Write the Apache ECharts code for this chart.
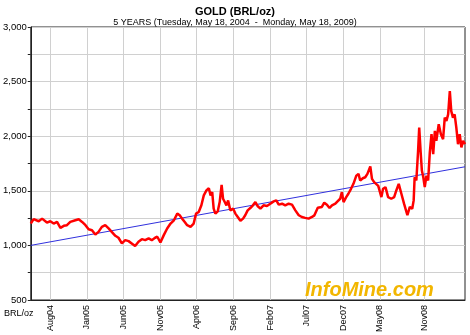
<!DOCTYPE html>
<html><head><meta charset="utf-8">
<script src="https://cdn.jsdelivr.net/npm/echarts@6/dist/echarts.min.js"></script>
<style>html,body{margin:0;padding:0;background:#fff}#c{width:470px;height:335px}</style>
</head><body><div id="c"></div>
<script>
const goldDates = [
'2004-05-13','2004-05-25','2004-06-15','2004-06-29','2004-07-19','2004-08-02','2004-08-16','2004-08-30',
'2004-09-13','2004-09-27','2004-10-10','2004-10-24','2004-11-14','2004-11-28','2004-12-12','2004-12-26',
'2005-01-08','2005-01-22','2005-02-05','2005-02-18','2005-03-04','2005-03-18','2005-04-01','2005-04-14',
'2005-04-29','2005-05-12','2005-05-26','2005-06-09','2005-06-23','2005-07-06','2005-07-20','2005-08-03',
'2005-08-17','2005-08-31','2005-09-14','2005-09-27','2005-10-11','2005-10-20','2005-11-02','2005-11-16',
'2005-11-30','2005-12-14','2005-12-28',
'2006-01-11','2006-01-21','2006-01-31','2006-02-11','2006-02-21','2006-03-07','2006-03-20','2006-03-30',
'2006-04-10','2006-04-21','2006-05-01','2006-05-12','2006-05-22','2006-05-29','2006-06-05','2006-06-11',
'2006-06-18','2006-06-28','2006-07-06','2006-07-14','2006-07-20','2006-07-27','2006-08-03','2006-08-10',
'2006-08-19','2006-08-31','2006-09-09','2006-09-19','2006-09-30','2006-10-11','2006-10-20','2006-10-30',
'2006-11-10','2006-11-21','2006-12-01','2006-12-10','2006-12-22',
'2007-01-04','2007-01-18','2007-02-01','2007-02-15','2007-02-26','2007-03-08','2007-03-22','2007-04-04',
'2007-04-18','2007-05-02','2007-05-16','2007-05-30','2007-06-12','2007-06-26','2007-07-10','2007-07-24',
'2007-08-03','2007-08-17','2007-08-25','2007-09-03','2007-09-13','2007-09-24','2007-10-05','2007-10-15',
'2007-10-29','2007-11-07','2007-11-18','2007-11-25','2007-12-02','2007-12-13','2007-12-22',
'2008-01-02','2008-01-12','2008-01-24','2008-02-02','2008-02-09','2008-02-20','2008-03-01','2008-03-10',
'2008-03-22','2008-03-29','2008-04-07','2008-04-15','2008-04-24','2008-05-07','2008-05-14','2008-05-24',
'2008-06-04','2008-06-17','2008-06-29','2008-07-08','2008-07-18','2008-07-29','2008-08-09','2008-08-19',
'2008-08-23','2008-09-02','2008-09-12','2008-09-18','2008-09-22','2008-09-29','2008-10-06','2008-10-11',
'2008-10-17','2008-10-22','2008-10-28','2008-11-03','2008-11-10','2008-11-17','2008-11-24','2008-12-01',
'2008-12-08','2008-12-15','2008-12-21','2008-12-31',
'2009-01-09','2009-01-18','2009-01-25','2009-02-01','2009-02-08','2009-02-15','2009-02-21','2009-02-28',
'2009-03-07','2009-03-14','2009-03-21','2009-03-28','2009-04-04','2009-04-11','2009-04-19'
];
const goldValues = [
1200,1240,1221,1245,1209,1221,1200,1215,
1161,1179,1185,1215,1230,1239,1215,1185,
1148,1139,1100,1124,1170,1185,1155,1124,
1088,1070,1018,1048,1039,1018,995,1033,
1057,1048,1064,1048,1070,1079,1027,1094,
1155,1200,1230,
1291,1276,1245,1215,1185,1170,1200,1291,
1306,1367,1458,1503,1524,1458,1488,1336,
1291,1312,1397,1554,1427,1397,1367,1412,
1321,1336,1291,1260,1225,1245,1276,1321,
1342,1367,1397,1361,1336,
1367,1361,1382,1403,1412,1373,1382,1367,
1382,1373,1321,1276,1260,1252,1245,1260,
1275,1345,1336,1352,1391,1373,1342,1367,
1382,1403,1427,1488,1397,1442,1473,
1518,1564,1639,1655,1594,1615,1624,1655,
1724,1609,1579,1594,1545,1442,1518,1533,
1442,1427,1442,1503,1564,1473,1382,1306,
1276,1352,1336,1412,1624,1594,1852,2079,
1852,1685,1624,1533,1639,1594,1852,2018,
1836,2048,1958,2109,
2018,1973,2170,2140,2200,2412,2230,2170,
2200,2079,1927,2018,1897,1958,1927
];
const trendDates = ['2004-05-13','2009-04-19'];
const trendValues = [1000,1720];
const tickDates = ['2004-08-01','2005-01-01','2005-06-01','2005-11-01','2006-04-01','2006-09-01',
  '2007-02-01','2007-07-01','2007-12-01','2008-05-01','2008-11-01'];
const tickLabels = ['Aug04','Jan05','Jun05','Nov05','Apr06','Sep06','Feb07','Jul07','Dec07','May08','Nov08'];
const axisStart = '2004-05-13', axisEnd = '2009-04-19';

function ts(s){const p=s.split('-').map(Number);return Date.UTC(p[0],p[1]-1,p[2]);}
const tickTs = tickDates.map(ts);
const chart = echarts.init(document.getElementById('c'));
const FONT = '"Liberation Sans", Arial, sans-serif';
chart.setOption({
  animation:false,
  backgroundColor:'#fff',
  title:[
    {text:'GOLD (BRL/oz)', left:'center', top:1, textStyle:{fontFamily:FONT,fontSize:11,fontWeight:'bold',color:'#000'}},
    {text:'5 YEARS (Tuesday, May 18, 2004  -  Monday, May 18, 2009)', left:'center', top:13, textStyle:{fontFamily:FONT,fontSize:9,fontWeight:'normal',color:'#000'}}
  ],
  grid:{left:30,right:5,top:27,bottom:33,show:true,borderColor:'#222',borderWidth:1,backgroundColor:'transparent'},
  xAxis:{
    type:'value', min:ts(axisStart), max:ts(axisEnd),
    axisLine:{show:true,lineStyle:{color:'#222'}},
    axisTick:{show:false,customValues:tickTs},
    axisLabel:{customValues:tickTs,rotate:90,fontFamily:FONT,fontSize:9,color:'#000',margin:5,
      formatter:function(v){const i=tickTs.indexOf(v);return i>=0?tickLabels[i]:'';}},
    splitLine:{show:false}
  },
  yAxis:{
    type:'value', min:500, max:3000, interval:250,
    axisLine:{show:true,lineStyle:{color:'#222'}},
    axisTick:{show:true,length:3,lineStyle:{color:'#222'}},
    axisLabel:{fontFamily:FONT,fontSize:9.5,color:'#000',margin:4,
      formatter:function(v){return v%500===0?v.toLocaleString('en-US'):'';}},
    splitLine:{show:true,lineStyle:{color:'#d0d0d0',width:1}}
  },
  graphic:[
    {type:'text',left:4,top:309,style:{text:'BRL/oz',font:'9px '+FONT,fill:'#000'}},
    {type:'text',left:305,top:280,z:10,style:{text:'InfoMine.com',font:'italic bold 20px '+FONT,fill:'#f2b600'}}
  ],
  series:[
    {type:'line',data:[],silent:true,z:1,
      markLine:{silent:true,z:1,symbol:['none','none'],label:{show:false},animation:false,
        lineStyle:{color:'#d0d0d0',width:1,type:'solid'},emphasis:{disabled:true},
        data:tickTs.map(t=>({xAxis:t}))}},
    {type:'line',data:trendDates.map((d,i)=>[ts(d),trendValues[i]]),showSymbol:false,silent:true,
      lineStyle:{color:'#3030dd',width:1},z:3},
    {type:'line',data:goldDates.map((d,i)=>[ts(d),goldValues[i]]),showSymbol:false,silent:true,
      lineStyle:{color:'#ff0000',width:2.5},z:4}
  ]
});
</script></body></html>
